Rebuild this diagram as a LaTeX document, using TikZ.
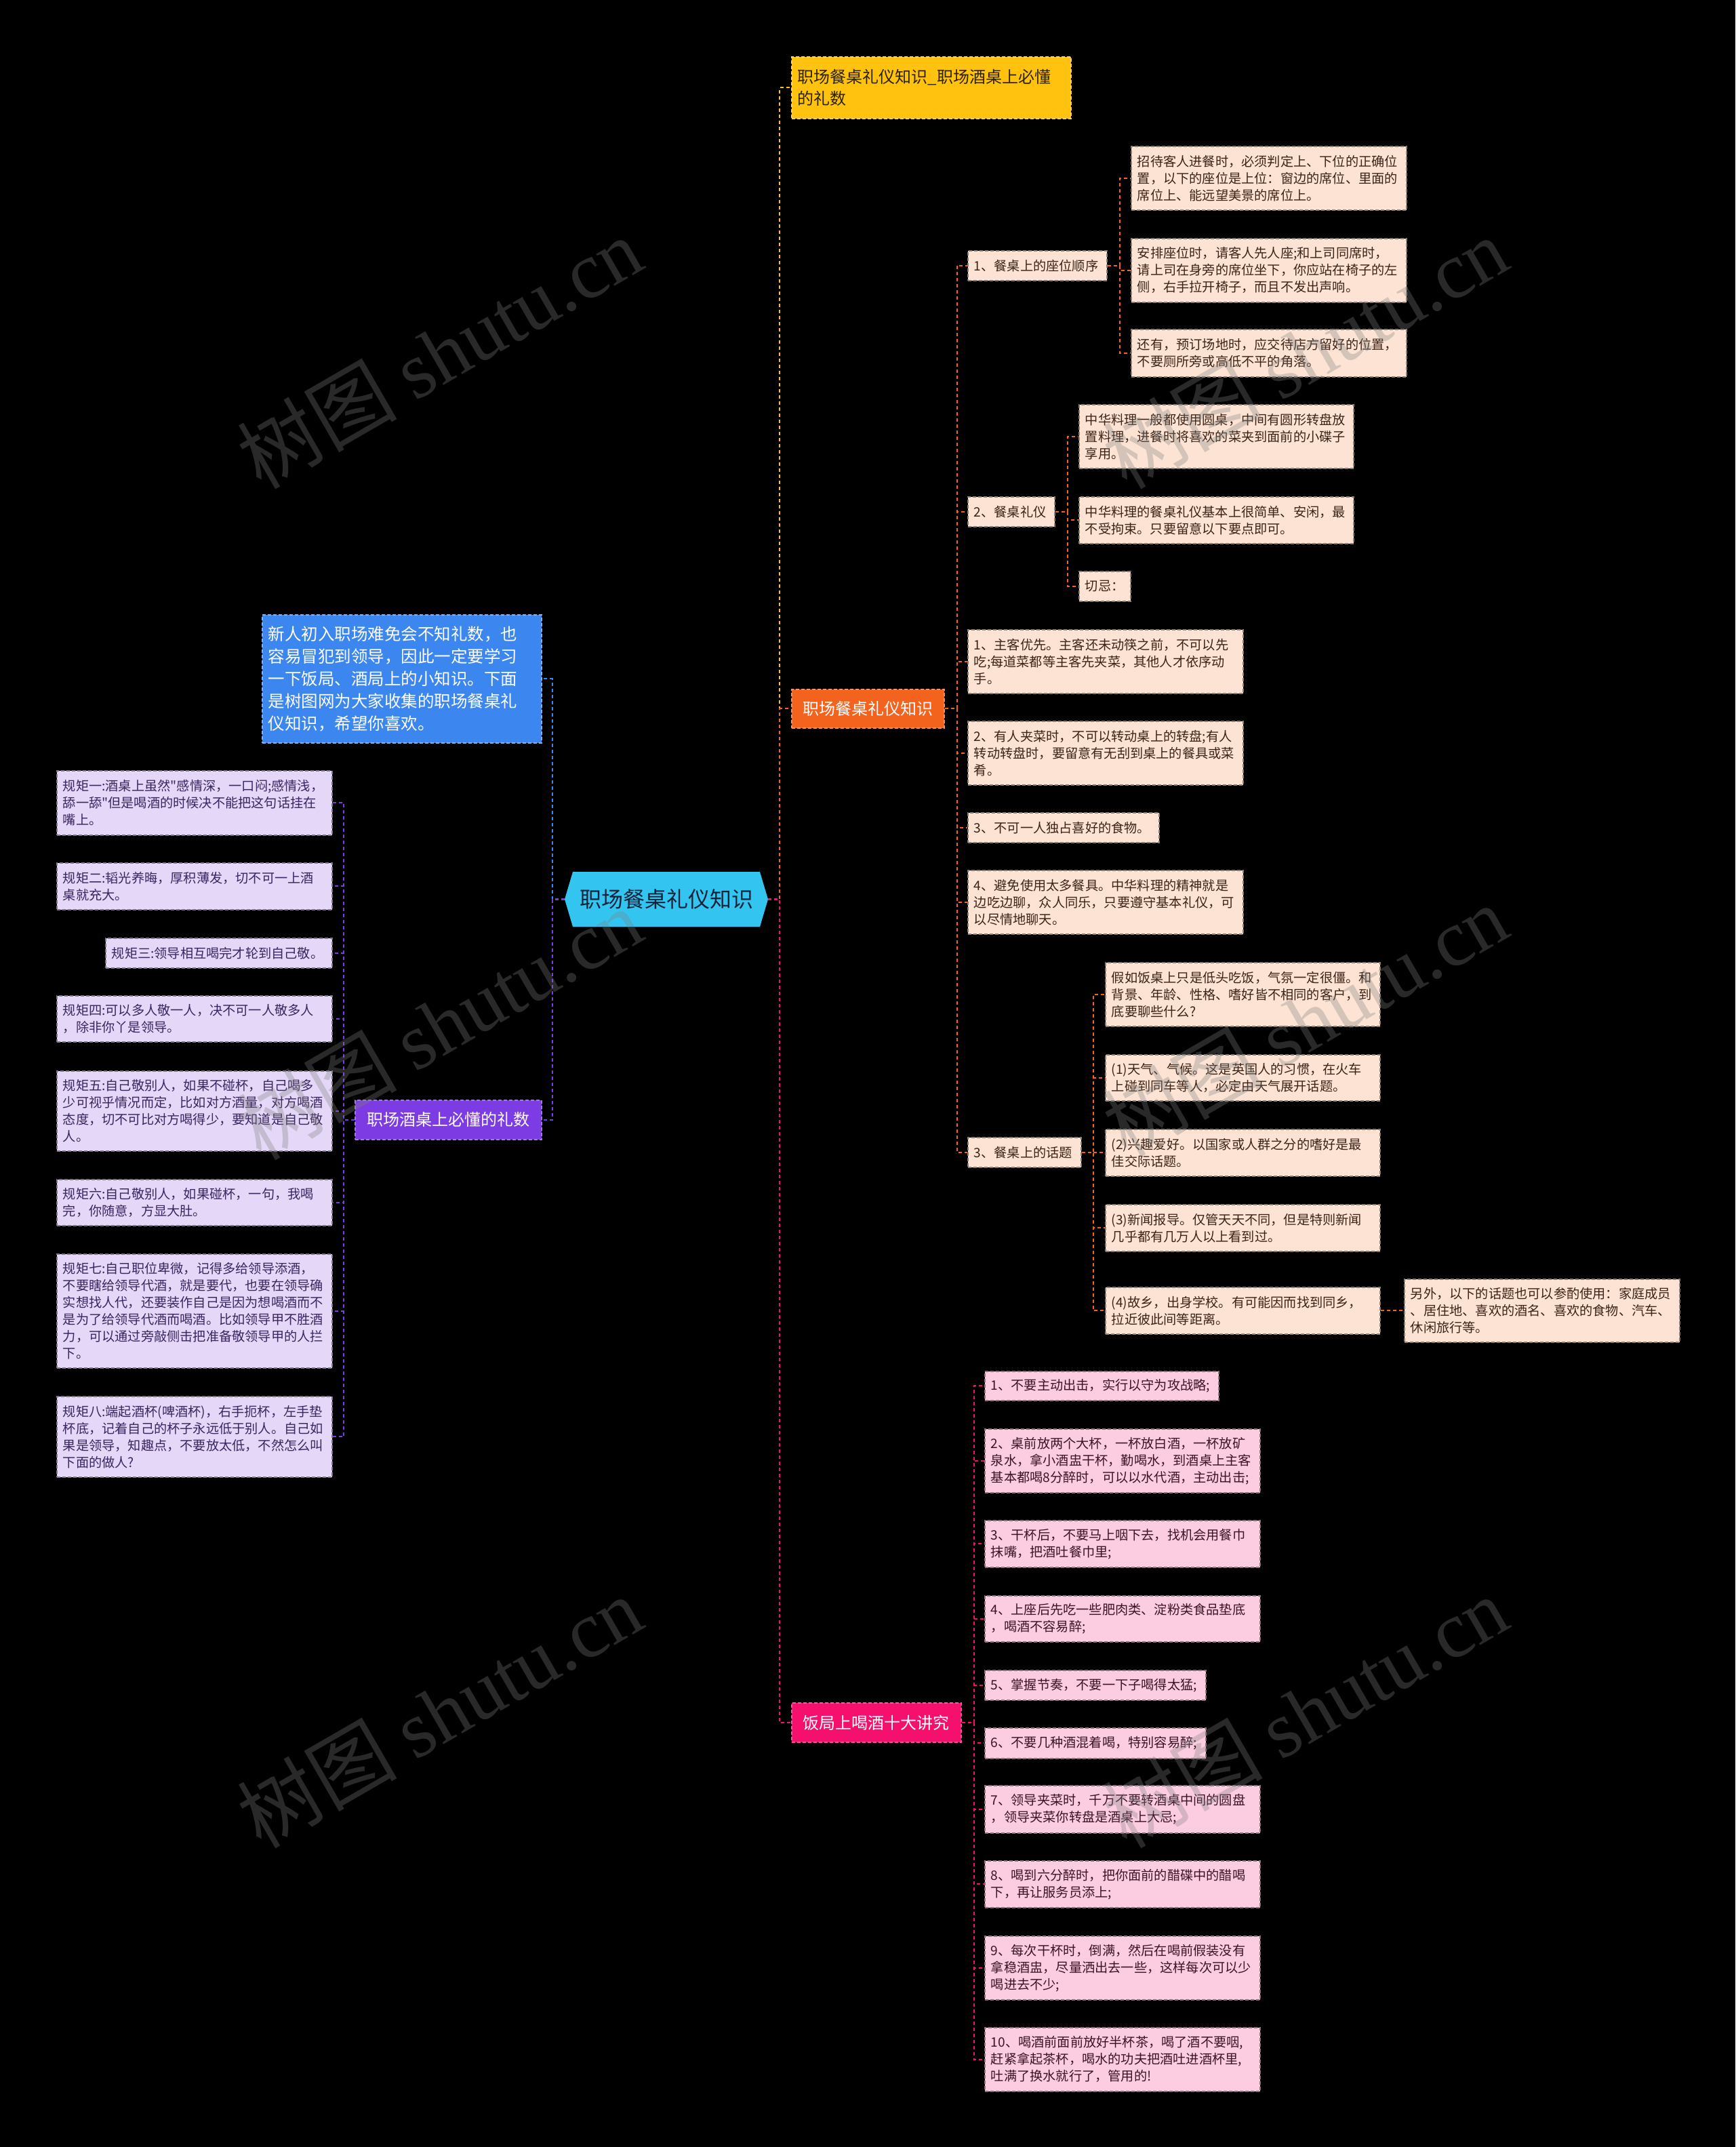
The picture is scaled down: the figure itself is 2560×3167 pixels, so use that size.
\documentclass[tikz,border=0pt]{standalone}
\usepackage{fontspec}
\newfontfamily\cjk{Noto Sans CJK SC}
\newfontfamily\wmlat{Liberation Serif}
\definecolor{rootC}{HTML}{33C5F0}
\definecolor{rootT}{HTML}{14233A}
\definecolor{yelC}{HTML}{FFC20E}
\definecolor{yelT}{HTML}{2E2200}
\definecolor{oraC}{HTML}{F4631E}
\definecolor{pnkC}{HTML}{F5106E}
\definecolor{purC}{HTML}{7D3BE3}
\definecolor{bluC}{HTML}{3C86EF}
\definecolor{peachC}{HTML}{FDE3D3}
\definecolor{peachT}{HTML}{3A2418}
\definecolor{pinkC}{HTML}{FCCDE1}
\definecolor{pinkT}{HTML}{3A1426}
\definecolor{lavC}{HTML}{E4D7F7}
\definecolor{lavT}{HTML}{3A2560}
\newcommand\mybox[7]{%
  \pgfmathsetmacro\bxw{#5-#3}%
  \pgfmathsetmacro\bxh{#6-#4}%
  \pgfmathsetmacro\bxt{#5-#3-18}%
  \node[#2, minimum width=\bxw pt, minimum height=\bxh pt, text width=\bxt pt] (#1) at (#3,#4) {#7};%
}
\tikzset{
  boxbase/.style={anchor=north west, inner xsep=9pt, inner ysep=0pt, line width=1.6pt, dash pattern=on 5pt off 3pt},
  small/.style={font=\cjk\fontsize{19.2}{25}\selectfont},
  obox/.style={boxbase, small, align=left, fill=peachC, draw=peachC!55!black, text=peachT},
  pbox/.style={boxbase, small, align=left, fill=pinkC, draw=pinkC!55!black, text=pinkT},
  ubox/.style={boxbase, small, align=left, fill=lavC, draw=lavC!55!black, text=lavT},
  ttl/.style={boxbase, align=center, text=white, font=\cjk\fontsize{24}{32}\selectfont},
  ytitle/.style={boxbase, align=left, fill=yelC, draw=yelC!70!white, text=yelT, font=\cjk\fontsize{24}{32}\selectfont},
  otitle/.style={ttl, fill=oraC, draw=oraC!70!white},
  ptitle/.style={ttl, fill=pnkC, draw=pnkC!70!white},
  utitle/.style={ttl, fill=purC, draw=purC!70!white},
  bbox/.style={boxbase, align=left, fill=bluC, draw=bluC!65!white, text=white, font=\cjk\fontsize{24.5}{33}\selectfont},
  link/.style={line width=2.2pt, dash pattern=on 5pt off 4pt},
  wm/.style={text=gray, opacity=0.32, font=\cjk\fontsize{118}{120}\selectfont, rotate=30, inner sep=0pt}
}
\begin{document}
\begin{tikzpicture}[x=1pt,y=-1pt]
\useasboundingbox[fill=black] (0,0) rectangle (2560,3167);

% root
\fill[rootC] (833,1326.5) -- (845,1286) -- (1121,1286) -- (1133,1326.5) -- (1121,1367) -- (845,1367) -- cycle;
\node[minimum width=300pt, minimum height=81pt, inner sep=0pt, text=rootT, font=\cjk\fontsize{32}{36}\selectfont] (root) at (983,1326.5) {职场餐桌礼仪知识};

% top level
\mybox{yel}{ytitle}{1167}{83}{1579}{174}{职场餐桌礼仪知识\_职场酒桌上必懂\\的礼数}
\mybox{ora}{otitle}{1167}{1016}{1392}{1073}{职场餐桌礼仪知识}
\mybox{pnk}{ptitle}{1167}{2511}{1417}{2569}{饭局上喝酒十大讲究}
\mybox{pur}{utitle}{523}{1622}{798}{1680}{职场酒桌上必懂的礼数}
\mybox{blu}{bbox}{386}{906}{798}{1095}{新人初入职场难免会不知礼数，也\\容易冒犯到领导，因此一定要学习\\一下饭局、酒局上的小知识。下面\\是树图网为大家收集的职场餐桌礼\\仪知识，希望你喜欢。}

% orange branch
\mybox{o1}{obox}{1427}{369}{1632}{413}{1、餐桌上的座位顺序}
\mybox{o1a}{obox}{1668}{215}{2074}{309}{招待客人进餐时，必须判定上、下位的正确位\\置，以下的座位是上位：窗边的席位、里面的\\席位上、能远望美景的席位上。}
\mybox{o1b}{obox}{1668}{351}{2074}{445}{安排座位时，请客人先人座;和上司同席时，\\请上司在身旁的席位坐下，你应站在椅子的左\\侧，右手拉开椅子，而且不发出声响。}
\mybox{o1c}{obox}{1668}{485}{2074}{555}{还有，预订场地时，应交待店方留好的位置，\\不要厕所旁或高低不平的角落。}
\mybox{o2}{obox}{1427}{732}{1555}{776}{2、餐桌礼仪}
\mybox{o2a}{obox}{1591}{596}{1996}{690}{中华料理一般都使用圆桌，中间有圆形转盘放\\置料理，进餐时将喜欢的菜夹到面前的小碟子\\享用。}
\mybox{o2b}{obox}{1591}{732}{1996}{801}{中华料理的餐桌礼仪基本上很简单、安闲，最\\不受拘束。只要留意以下要点即可。}
\mybox{o2c}{obox}{1591}{842}{1667}{886}{切忌：}
\mybox{o3}{obox}{1427}{928}{1833}{1022}{1、主客优先。主客还未动筷之前，不可以先\\吃;每道菜都等主客先夹菜，其他人才依序动\\手。}
\mybox{o4}{obox}{1427}{1063}{1833}{1157}{2、有人夹菜时，不可以转动桌上的转盘;有人\\转动转盘时，要留意有无刮到桌上的餐具或菜\\肴。}
\mybox{o5}{obox}{1427}{1198}{1709}{1242}{3、不可一人独占喜好的食物。}
\mybox{o6}{obox}{1427}{1283}{1833}{1377}{4、避免使用太多餐具。中华料理的精神就是\\边吃边聊，众人同乐，只要遵守基本礼仪，可\\以尽情地聊天。}
\mybox{o7}{obox}{1427}{1677}{1594}{1721}{3、餐桌上的话题}
\mybox{o7a}{obox}{1630}{1419}{2035}{1513}{假如饭桌上只是低头吃饭，气氛一定很僵。和\\背景、年龄、性格、嗜好皆不相同的客户，到\\底要聊些什么?}
\mybox{o7b}{obox}{1630}{1555}{2035}{1623}{(1)天气、气候。这是英国人的习惯，在火车\\上碰到同车等人，必定由天气展开话题。}
\mybox{o7c}{obox}{1630}{1665}{2035}{1734}{(2)兴趣爱好。以国家或人群之分的嗜好是最\\佳交际话题。}
\mybox{o7d}{obox}{1630}{1776}{2035}{1845}{(3)新闻报导。仅管天天不同，但是特则新闻\\几乎都有几万人以上看到过。}
\mybox{o7e}{obox}{1630}{1898}{2035}{1967}{(4)故乡，出身学校。有可能因而找到同乡，\\拉近彼此间等距离。}
\mybox{o7f}{obox}{2071}{1886}{2477}{1979}{另外，以下的话题也可以参酌使用：家庭成员\\、居住地、喜欢的酒名、喜欢的食物、汽车、\\休闲旅行等。}

% pink branch
\mybox{p1}{pbox}{1452}{2022}{1797}{2065}{1、不要主动出击，实行以守为攻战略;}
\mybox{p2}{pbox}{1452}{2107}{1858}{2201}{2、桌前放两个大杯，一杯放白酒，一杯放矿\\泉水，拿小酒盅干杯，勤喝水，到酒桌上主客\\基本都喝8分醉时，可以以水代酒，主动出击;}
\mybox{p3}{pbox}{1452}{2242}{1858}{2311}{3、干杯后，不要马上咽下去，找机会用餐巾\\抹嘴，把酒吐餐巾里;}
\mybox{p4}{pbox}{1452}{2353}{1858}{2421}{4、上座后先吃一些肥肉类、淀粉类食品垫底\\，喝酒不容易醉;}
\mybox{p5}{pbox}{1452}{2463}{1778}{2507}{5、掌握节奏，不要一下子喝得太猛;}
\mybox{p6}{pbox}{1452}{2548}{1778}{2593}{6、不要几种酒混着喝，特别容易醉;}
\mybox{p7}{pbox}{1452}{2633}{1858}{2703}{7、领导夹菜时，千万不要转酒桌中间的圆盘\\，领导夹菜你转盘是酒桌上大忌;}
\mybox{p8}{pbox}{1452}{2744}{1858}{2813}{8、喝到六分醉时，把你面前的醋碟中的醋喝\\下，再让服务员添上;}
\mybox{p9}{pbox}{1452}{2855}{1858}{2949}{9、每次干杯时，倒满，然后在喝前假装没有\\拿稳酒盅，尽量洒出去一些，这样每次可以少\\喝进去不少;}
\mybox{p10}{pbox}{1452}{2990}{1858}{3084}{10、喝酒前面前放好半杯茶，喝了酒不要咽,\\赶紧拿起茶杯，喝水的功夫把酒吐进酒杯里,\\吐满了换水就行了，管用的!}

% purple branch
\mybox{r1}{ubox}{83}{1136}{489}{1231}{规矩一:酒桌上虽然"感情深，一口闷;感情浅，\\舔一舔"但是喝酒的时候决不能把这句话挂在\\嘴上。}
\mybox{r2}{ubox}{83}{1272}{489}{1341}{规矩二:韬光养晦，厚积薄发，切不可一上酒\\桌就充大。}
\mybox{r3}{ubox}{155}{1383}{489}{1427}{规矩三:领导相互喝完才轮到自己敬。}
\mybox{r4}{ubox}{83}{1468}{489}{1536}{规矩四:可以多人敬一人，决不可一人敬多人\\，除非你丫是领导。}
\mybox{r5}{ubox}{83}{1579}{489}{1697}{规矩五:自己敬别人，如果不碰杯，自己喝多\\少可视乎情况而定，比如对方酒量，对方喝酒\\态度，切不可比对方喝得少，要知道是自己敬\\人。}
\mybox{r6}{ubox}{83}{1739}{489}{1807}{规矩六:自己敬别人，如果碰杯，一句，我喝\\完，你随意，方显大肚。}
\mybox{r7}{ubox}{83}{1849}{489}{2017}{规矩七:自己职位卑微，记得多给领导添酒，\\不要瞎给领导代酒，就是要代，也要在领导确\\实想找人代，还要装作自己是因为想喝酒而不\\是为了给领导代酒而喝酒。比如领导甲不胜酒\\力，可以通过旁敲侧击把准备敬领导甲的人拦\\下。}
\mybox{r8}{ubox}{83}{2059}{489}{2178}{规矩八:端起酒杯(啤酒杯)，右手扼杯，左手垫\\杯底，记着自己的杯子永远低于别人。自己如\\果是领导，知趣点，不要放太低，不然怎么叫\\下面的做人?}

% connectors from root
\draw[link, yelC] (root.east) -- ++(17,0) |- (yel.west);
\draw[link, oraC] (root.east) -- ++(17,0) |- (ora.west);
\draw[link, pnkC] (root.east) -- ++(17,0) |- (pnk.west);
\draw[link, bluC] (root.west) -- ++(-18,0) |- (blu.east);
\draw[link, purC] (root.west) -- ++(-18,0) |- (pur.east);

% orange connectors
\foreach \c in {o1,o2,o3,o4,o5,o6,o7} \draw[link, oraC] (ora.east) -- ++(18,0) |- (\c.west);
\foreach \c in {o1a,o1b,o1c} \draw[link, oraC] (o1.east) -- ++(18,0) |- (\c.west);
\foreach \c in {o2a,o2b,o2c} \draw[link, oraC] (o2.east) -- ++(18,0) |- (\c.west);
\foreach \c in {o7a,o7b,o7c,o7d,o7e} \draw[link, oraC] (o7.east) -- ++(17,0) |- (\c.west);
\draw[link, oraC] (o7e.east) -- (o7f.west);

% pink connectors
\foreach \c in {p1,p2,p3,p4,p5,p6,p7,p8,p9,p10} \draw[link, pnkC] (pnk.east) -- ++(18,0) |- (\c.west);

% purple connectors
\foreach \c in {r1,r2,r3,r4,r5,r6,r7,r8} \draw[link, purC] (pur.west) -- ++(-16,0) |- (\c.east);

% watermarks
\node[wm] (wm1) at (648,520) {树图 {\wmlat shutu.cn}};
\node[wm] (wm2) at (1925,520) {树图 {\wmlat shutu.cn}};
\node[wm] (wm3) at (648,1510) {树图 {\wmlat shutu.cn}};
\node[wm] (wm4) at (1925,1505) {树图 {\wmlat shutu.cn}};
\node[wm] (wm5) at (648,2525) {树图 {\wmlat shutu.cn}};
\node[wm] (wm6) at (1925,2525) {树图 {\wmlat shutu.cn}};
\end{tikzpicture}
\end{document}
